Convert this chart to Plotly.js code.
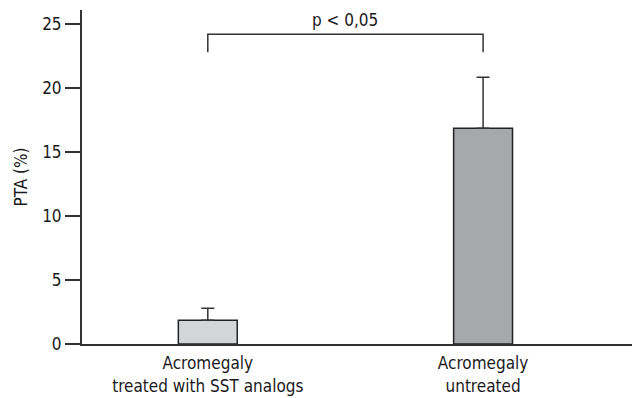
<!DOCTYPE html>
<html>
<head>
<meta charset="utf-8">
<script src="https://cdn.plot.ly/plotly-3.0.1.min.js"></script>
<style>html,body{margin:0;padding:0;background:#fff;}#chart{width:632px;height:398px;}</style>
</head>
<body>
<div id="chart"></div>
<script>
var categories = ["Acromegaly<br>treated with SST analogs", "Acromegaly<br>untreated"];
var means = [1.85, 16.85];
var sdUp = [0.95, 4.0];
var barColors = ["#d4d5d7", "#a7a8ab"];
var yTicks = [0, 5, 10, 15, 20, 25];
var pLabel = "p < 0,05";
var bracketTop = 24.2;
var bracketBottom = 22.8;

var FONT = "'Liberation Sans Narrow', 'DejaVu Sans Condensed', 'Arial Narrow', sans-serif";
var FS = 17;
var xIdx = categories.map(function(_, i){ return i; });

var trace = {
  type: "bar",
  x: xIdx,
  y: means,
  width: 0.214,
  marker: {color: barColors, line: {color: "#222", width: 1.5}},
  error_y: {type: "data", array: sdUp, arrayminus: [0, 0], symmetric: false, visible: true, color: "#333", thickness: 1.5, width: 6.5},
  hoverinfo: "skip"
};

var layout = {
  width: 632, height: 398,
  margin: {l: 82, r: 0, t: 10, b: 54},
  paper_bgcolor: "#fff", plot_bgcolor: "#fff",
  showlegend: false,
  font: {family: FONT, size: FS, color: "#1a1a1a"},
  xaxis: {
    range: [-0.457, 1.541],
    tickvals: xIdx, ticktext: categories,
    showline: true, linecolor: "#333", linewidth: 2,
    ticks: "outside", ticklen: 3, tickcolor: "rgba(0,0,0,0)", showgrid: false, zeroline: false,
    tickfont: {family: FONT, size: FS, color: "#1a1a1a"},
    fixedrange: true
  },
  yaxis: {
    range: [0, 26.1],
    tickvals: yTicks,
    showline: true, linecolor: "#333", linewidth: 2,
    ticks: "outside", ticklen: 15, tickwidth: 2, tickcolor: "#333",
    showgrid: false, zeroline: false,
    tickfont: {family: FONT, size: FS, color: "#1a1a1a"},
    title: {text: "PTA (%)", font: {family: FONT, size: FS, color: "#1a1a1a"}, standoff: 10},
    fixedrange: true
  },
  shapes: [{
    type: "path", xref: "x", yref: "y",
    path: "M " + xIdx[0] + " " + bracketBottom + " L " + xIdx[0] + " " + bracketTop +
          " L " + xIdx[1] + " " + bracketTop + " L " + xIdx[1] + " " + bracketBottom,
    line: {color: "#333", width: 1.5}
  }],
  annotations: [{
    xref: "x", yref: "y",
    x: (xIdx[0] + xIdx[1]) / 2, y: bracketTop,
    yanchor: "bottom", yshift: 2,
    text: pLabel, showarrow: false,
    font: {family: FONT, size: FS, color: "#1a1a1a"}
  }]
};

Plotly.newPlot("chart", [trace], layout, {displayModeBar: false, staticPlot: true});
</script>
</body>
</html>
